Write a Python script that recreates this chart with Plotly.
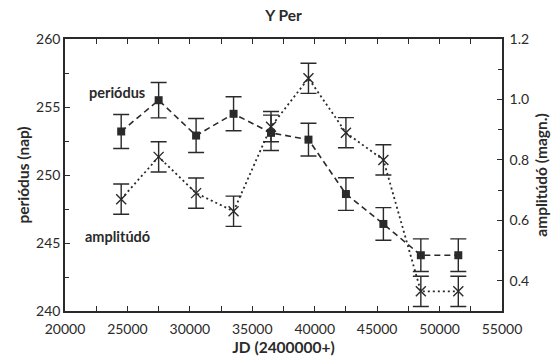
import plotly.graph_objects as go

jd = [24500, 27500, 30500, 33500, 36500, 39500, 42500, 45500, 48500, 51500]
period = [253.2, 255.5, 252.9, 254.5, 253.1, 252.6, 248.6, 246.4, 244.1, 244.1]
period_err = [1.25, 1.3, 1.25, 1.25, 1.3, 1.2, 1.2, 1.2, 1.2, 1.2]
amp = [0.67, 0.81, 0.69, 0.63, 0.91, 1.07, 0.89, 0.80, 0.365, 0.365]
amp_err = [0.05, 0.05, 0.05, 0.05, 0.05, 0.05, 0.05, 0.05, 0.05, 0.05]

ink = "#2a2a2a"
FONT = "Lato"

fig = go.Figure()
fig.add_trace(go.Scatter(
    x=jd, y=period, mode="lines+markers", name="periódus",
    line=dict(color=ink, width=1.6, dash="6px,4px"),
    marker=dict(symbol="square", size=8, color=ink),
    error_y=dict(type="data", array=period_err, visible=True, color=ink, thickness=1.4, width=8),
    yaxis="y", showlegend=False))
fig.add_trace(go.Scatter(
    x=jd, y=amp, mode="lines+markers", name="amplitúdó",
    line=dict(color=ink, width=1.8, dash="2px,3px"),
    marker=dict(symbol="x-thin-open", size=10, line=dict(color=ink, width=1.4)),
    error_y=dict(type="data", array=amp_err, visible=True, color=ink, thickness=1.4, width=8),
    yaxis="y2", showlegend=False))

fig.update_layout(
    width=557, height=359,
    margin=dict(l=65, r=55, t=39, b=48),
    paper_bgcolor="white", plot_bgcolor="white",
    font=dict(family=FONT, size=14, color=ink),
    title=dict(text="<b>Y Per</b>", x=0.5, xref="paper", xanchor="center",
               y=1 - 16 / 359, yanchor="middle", font=dict(size=15.5)),
    xaxis=dict(range=[20000, 55000], dtick=5000, tick0=20000, tickformat="d",
               ticklabelstandoff=4, automargin=False,
               showline=True, linecolor=ink, linewidth=1.6, mirror="ticks",
               ticks="inside", ticklen=5, tickwidth=1.2, tickcolor=ink,
               minor=dict(dtick=2500, ticks="inside", ticklen=5, tickcolor=ink, tickwidth=1.2),
               showgrid=False, zeroline=False,
               title=dict(text="<b>JD (2400000+)</b>", standoff=7, font=dict(size=15.5))),
    yaxis=dict(range=[240, 260], dtick=5, tick0=240, automargin=False,
               showline=True, linecolor=ink, linewidth=1.6,
               ticks="inside", ticklen=5, tickwidth=1.2, tickcolor=ink,
               minor=dict(dtick=2.5, ticks="inside", ticklen=4, tickcolor=ink, tickwidth=1.2),
               showgrid=False, zeroline=False,
               title=dict(text="<b>periódus (nap)</b>", standoff=3, font=dict(size=15.5))),
    yaxis2=dict(range=[0.3, 1.2], tickvals=[0.4, 0.6, 0.8, 1.0, 1.2],
                ticktext=["0.4", "0.6", "0.8", "1.0", "1.2"], automargin=False,
                overlaying="y", side="right", ticklabelstandoff=3,
                showline=True, linecolor=ink, linewidth=1.6,
                ticks="inside", ticklen=5, tickwidth=1.2, tickcolor=ink,
                minor=dict(tickvals=[0.5, 0.7, 0.9, 1.1], ticks="inside", ticklen=4, tickcolor=ink, tickwidth=1.2),
                showgrid=False, zeroline=False,
                title=dict(text="<b>amplitúdó (magn.)</b>", standoff=8, font=dict(size=15.5))),
    annotations=[
        dict(text="<b>periódus</b>", x=24200, y=256.1, xref="x", yref="y",
             showarrow=False, xanchor="center", yanchor="middle", font=dict(size=14.5)),
        dict(text="<b>amplitúdó</b>", x=24200, y=245.5, xref="x", yref="y",
             showarrow=False, xanchor="center", yanchor="middle", font=dict(size=14.5)),
    ],
)

fig.write_html("out.html")
